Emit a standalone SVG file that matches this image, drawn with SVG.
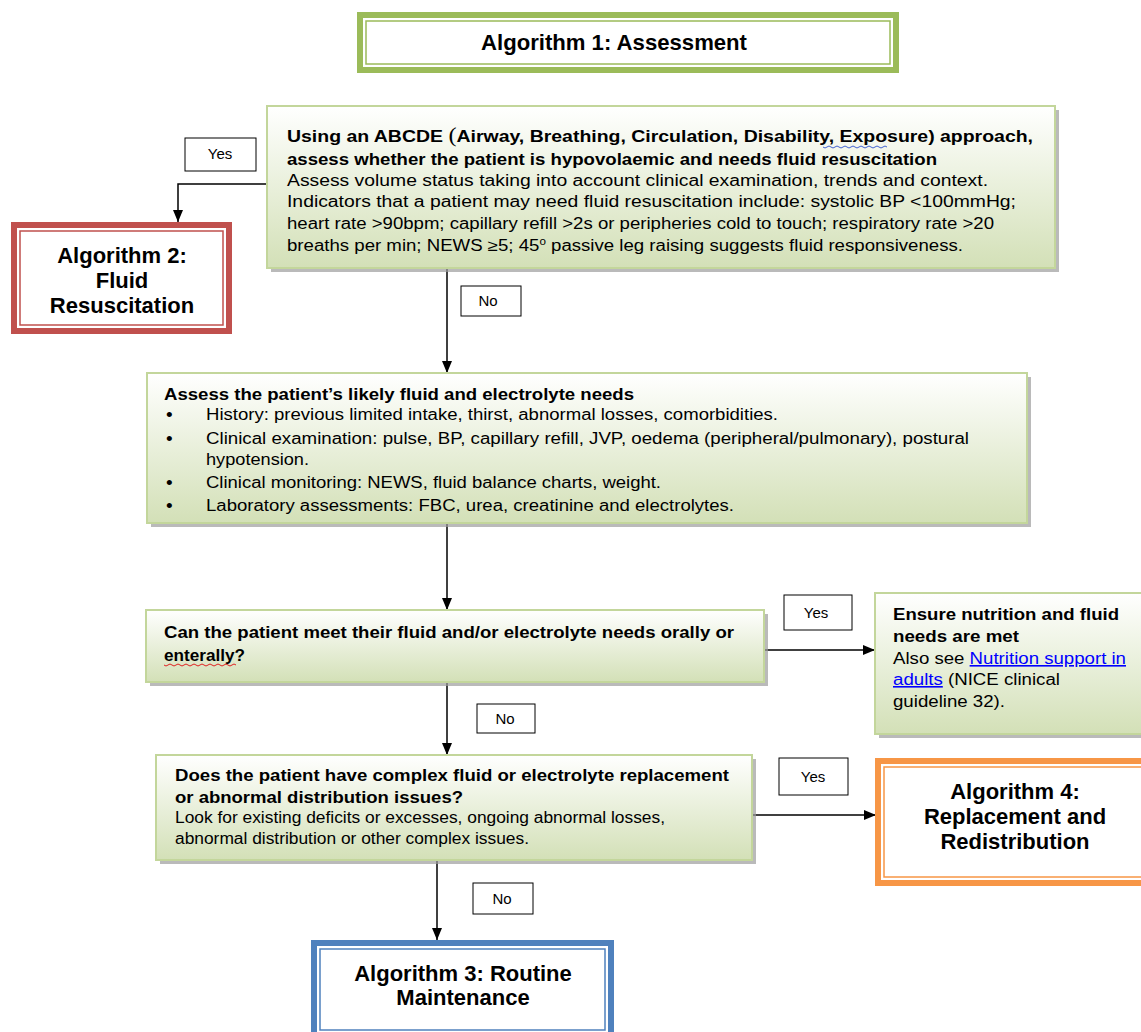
<svg xmlns="http://www.w3.org/2000/svg" width="1141" height="1032" viewBox="0 0 1141 1032">
<defs>
<linearGradient id="gr" x1="0" y1="0" x2="0" y2="1">
<stop offset="0" stop-color="#ffffff"/>
<stop offset="1" stop-color="#d3e0b7"/>
</linearGradient>
<marker id="ah" viewBox="0 0 12 10" refX="12" refY="5" markerWidth="12" markerHeight="11" markerUnits="userSpaceOnUse" orient="auto">
<path d="M0,0 L12,5 L0,10 z" fill="#000"/>
</marker>
<style>
text{font-family:"Liberation Sans",Arial,sans-serif;fill:#000}
.t{font-size:16px}
.b{font-size:16px;font-weight:bold}
.h{font-size:22px;font-weight:bold;text-anchor:middle}
.lb{font-size:15px;text-anchor:middle}
.bul{font-size:19px}
.gbox{fill:url(#gr);stroke:#c3d69b;stroke-width:2}
.shadow{fill:#9c9c9c;opacity:0.7}
.lab{fill:#fff;stroke:#000;stroke-width:1}
.conn{fill:none;stroke:#000;stroke-width:1.5}
.link{fill:#0000ff;text-decoration:underline}
</style>
</defs>

<g id="connectors">
<path class="conn" d="M267,184 H178 V222" marker-end="url(#ah)"/>
<path class="conn" d="M447,268 V373" marker-end="url(#ah)"/>
<path class="conn" d="M447,523 V610" marker-end="url(#ah)"/>
<path class="conn" d="M764,650 H875" marker-end="url(#ah)"/>
<path class="conn" d="M447,682 V755" marker-end="url(#ah)"/>
<path class="conn" d="M752,815 H876" marker-end="url(#ah)"/>
<path class="conn" d="M437,860 V940" marker-end="url(#ah)"/>
</g>

<g id="alg1">
<rect x="360" y="15" width="536" height="55" fill="#fff" stroke="#9bbb59" stroke-width="6"/>
<rect x="366" y="21" width="524" height="43" fill="none" stroke="#9bbb59" stroke-width="1.5"/>
<text class="h" x="614" y="50" textLength="266" lengthAdjust="spacingAndGlyphs">Algorithm 1: Assessment</text>
</g>

<g id="box-abcde">
<rect class="shadow" x="271" y="110" width="788" height="162"/>
<rect class="gbox" x="267" y="106" width="788" height="162"/>
<text class="b" x="287" y="142" textLength="746" lengthAdjust="spacingAndGlyphs">Using an ABCDE <tspan font-family="'Liberation Serif',serif" font-weight="normal" font-size="20">(</tspan>Airway, Breathing, Circulation, Disability, Exposure) approach,</text>
<text class="b" x="287" y="165" textLength="650" lengthAdjust="spacingAndGlyphs">assess whether the patient is hypovolaemic and needs fluid resuscitation</text>
<text class="t" x="287" y="186" textLength="701" lengthAdjust="spacingAndGlyphs">Assess volume status taking into account clinical examination, trends and context.</text>
<text class="t" x="287" y="207" textLength="729" lengthAdjust="spacingAndGlyphs">Indicators that a patient may need fluid resuscitation include: systolic BP &lt;100mmHg;</text>
<text class="t" x="287" y="229" textLength="707" lengthAdjust="spacingAndGlyphs">heart rate &gt;90bpm; capillary refill &gt;2s or peripheries cold to touch; respiratory rate &gt;20</text>
<text class="t" x="287" y="251" textLength="676" lengthAdjust="spacingAndGlyphs">breaths per min; NEWS ≥5; 45<tspan font-size="10" dy="-6">o</tspan><tspan dy="6"> passive leg raising suggests fluid responsiveness.</tspan></text>
<path d="M823,147 q2,2 4,0 t4,0 t4,0 t4,0 t4,0 t4,0 t4,0 t4,0 t4,0 t4,0 t4,0 t4,0 t4,0 t4,0 t4,0 t4,0" fill="none" stroke="#4060d0" stroke-width="1"/>
</g>

<g id="yes1">
<rect class="lab" x="185" y="138" width="71" height="33"/>
<text class="lb" x="220" y="159">Yes</text>
</g>

<g id="alg2">
<rect x="14" y="225" width="215" height="106" fill="#fff" stroke="#c0504d" stroke-width="6"/>
<rect x="20" y="231" width="203" height="94" fill="none" stroke="#c0504d" stroke-width="1.5"/>
<text class="h" x="122" y="263">Algorithm 2:</text>
<text class="h" x="122" y="288">Fluid</text>
<text class="h" x="122" y="313">Resuscitation</text>
</g>

<g id="no1">
<rect class="lab" x="461" y="286" width="60" height="30"/>
<text class="lb" x="488" y="306">No</text>
</g>

<g id="box-needs">
<rect class="shadow" x="151" y="377" width="880" height="150"/>
<rect class="gbox" x="147" y="373" width="880" height="150"/>
<text class="b" x="164" y="400" textLength="470" lengthAdjust="spacingAndGlyphs">Assess the patient’s likely fluid and electrolyte needs</text>
<text class="bul" x="166" y="421">•</text>
<text class="t" x="206" y="420" textLength="572" lengthAdjust="spacingAndGlyphs">History: previous limited intake, thirst, abnormal losses, comorbidities.</text>
<text class="bul" x="166" y="445">•</text>
<text class="t" x="206" y="444" textLength="763" lengthAdjust="spacingAndGlyphs">Clinical examination: pulse, BP, capillary refill, JVP, oedema (peripheral/pulmonary), postural</text>
<text class="t" x="206" y="465" textLength="103" lengthAdjust="spacingAndGlyphs">hypotension.</text>
<text class="bul" x="166" y="489">•</text>
<text class="t" x="206" y="488" textLength="455" lengthAdjust="spacingAndGlyphs">Clinical monitoring: NEWS, fluid balance charts, weight.</text>
<text class="bul" x="166" y="512">•</text>
<text class="t" x="206" y="511" textLength="528" lengthAdjust="spacingAndGlyphs">Laboratory assessments: FBC, urea, creatinine and electrolytes.</text>
</g>

<g id="box-oral">
<rect class="shadow" x="150" y="614" width="618" height="72"/>
<rect class="gbox" x="146" y="610" width="618" height="72"/>
<text class="b" x="164" y="638" textLength="570" lengthAdjust="spacingAndGlyphs">Can the patient meet their fluid and/or electrolyte needs orally or</text>
<text class="b" x="164" y="661" textLength="81" lengthAdjust="spacingAndGlyphs">enterally?</text>
<path d="M164,665 q2,2 4,0 t4,0 t4,0 t4,0 t4,0 t4,0 t4,0 t4,0 t4,0 t4,0 t4,0 t4,0 t4,0 t4,0 t4,0 t4,0 t4,0 t4,0" fill="none" stroke="#e02020" stroke-width="1"/>
</g>

<g id="yes2">
<rect class="lab" x="784" y="595" width="68" height="35"/>
<text class="lb" x="816" y="618">Yes</text>
</g>

<g id="box-ensure">
<rect class="shadow" x="879" y="597" width="270" height="141"/>
<rect class="gbox" x="875" y="593" width="275" height="141"/>
<text class="b" x="893" y="620" textLength="226" lengthAdjust="spacingAndGlyphs">Ensure nutrition and fluid</text>
<text class="b" x="893" y="642" textLength="126" lengthAdjust="spacingAndGlyphs">needs are met</text>
<text class="t" x="893" y="664" textLength="233" lengthAdjust="spacingAndGlyphs">Also see <tspan class="link">Nutrition support in</tspan></text>
<text class="t" x="893" y="685" textLength="167" lengthAdjust="spacingAndGlyphs"><tspan class="link">adults</tspan> (NICE clinical</text>
<text class="t" x="893" y="707" textLength="112" lengthAdjust="spacingAndGlyphs">guideline 32).</text>
</g>

<g id="no2">
<rect class="lab" x="477" y="704" width="58" height="29"/>
<text class="lb" x="505" y="724">No</text>
</g>

<g id="box-complex">
<rect class="shadow" x="160" y="759" width="596" height="105"/>
<rect class="gbox" x="156" y="755" width="596" height="105"/>
<text class="b" x="175" y="781" textLength="554" lengthAdjust="spacingAndGlyphs">Does the patient have complex fluid or electrolyte replacement</text>
<text class="b" x="175" y="803" textLength="288" lengthAdjust="spacingAndGlyphs">or abnormal distribution issues?</text>
<text class="t" x="175" y="823" textLength="490" lengthAdjust="spacingAndGlyphs">Look for existing deficits or excesses, ongoing abnormal losses,</text>
<text class="t" x="175" y="844" textLength="354" lengthAdjust="spacingAndGlyphs">abnormal distribution or other complex issues.</text>
</g>

<g id="yes3">
<rect class="lab" x="779" y="758" width="69" height="37"/>
<text class="lb" x="813" y="782">Yes</text>
</g>

<g id="alg4">
<rect x="878" y="761" width="275" height="122" fill="#fff" stroke="#f79646" stroke-width="6"/>
<rect x="884" y="767" width="275" height="110" fill="none" stroke="#f79646" stroke-width="1.5"/>
<text class="h" x="1015" y="799">Algorithm 4:</text>
<text class="h" x="1015" y="824">Replacement and</text>
<text class="h" x="1015" y="849">Redistribution</text>
</g>

<g id="no3">
<rect class="lab" x="473" y="883" width="60" height="31"/>
<text class="lb" x="502" y="904">No</text>
</g>

<g id="alg3">
<rect x="314" y="943" width="297" height="100" fill="#fff" stroke="#4f81bd" stroke-width="6"/>
<rect x="320" y="949" width="285" height="81" fill="none" stroke="#4f81bd" stroke-width="1.5"/>
<text class="h" x="463" y="981">Algorithm 3: Routine</text>
<text class="h" x="463" y="1005">Maintenance</text>
</g>
</svg>
